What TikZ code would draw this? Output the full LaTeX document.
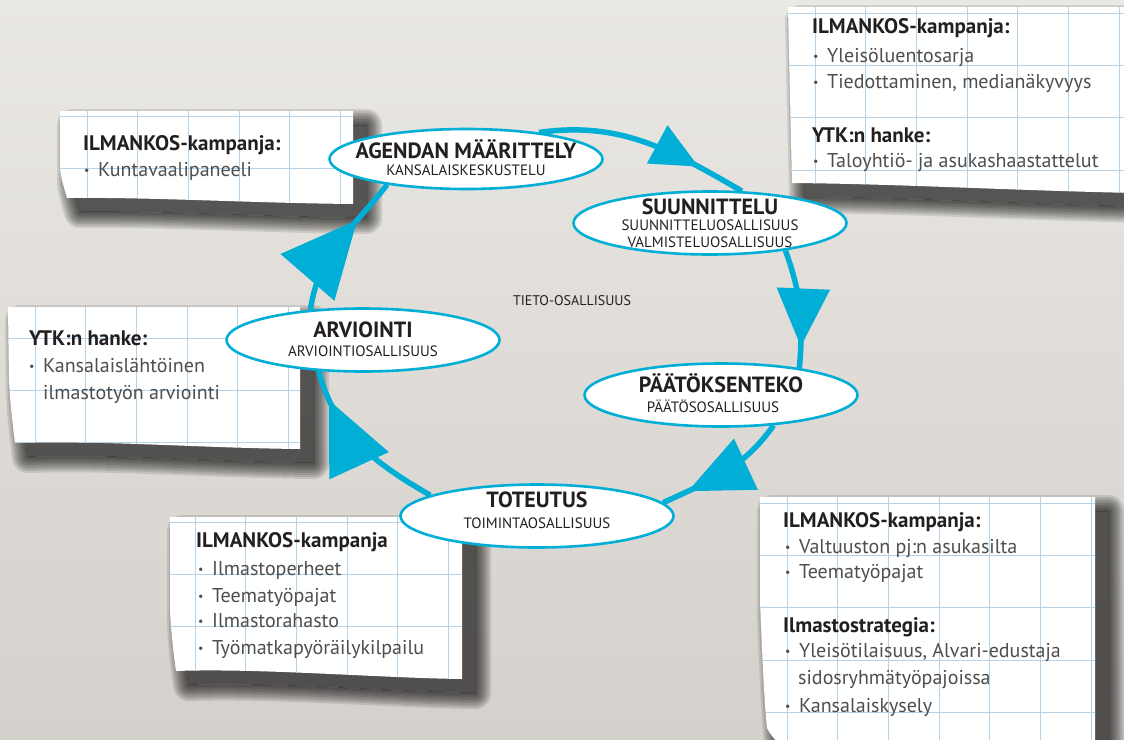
\documentclass[tikz,border=0pt]{standalone}
\usepackage{fontspec}
\setmainfont{PT Sans}
\usetikzlibrary{shapes.geometric,arrows.meta,decorations.markings}
\definecolor{cyc}{HTML}{00AED6}
\definecolor{gridc}{HTML}{B3D3EA}
\definecolor{txt}{HTML}{231F20}
\definecolor{lighttxt}{HTML}{4E4E4E}
\definecolor{bgtop}{HTML}{EAE8E4}
\definecolor{bgbot}{HTML}{D4D0CB}
\pgfdeclarelayer{bgl}
\pgfdeclarelayer{edges}
\pgfsetlayers{bgl,edges,main}
\newcommand{\bul}{\makebox[14pt][l]{\fontsize{12}{12}\selectfont\raisebox{1.5pt}{•}}}
\newcommand{\ttl}{\fontsize{22}{17}\selectfont\bfseries}
\newcommand{\softshadow}[1]{%
  \begin{scope}[shift={(13,14)}]
    \fill[black,opacity=0.62] #1;
    \begin{scope}[even odd rule]
      \clip (-200,-200) rectangle (1400,1000) #1;
      \foreach \w in {32,28,24,20,16,12,8,4}{\draw[line width=\w pt, black, opacity=0.11, line join=round] #1;}
    \end{scope}
  \end{scope}}
\tikzset{
  stage/.style={ellipse, draw=cyc, line width=2.6pt, fill=white, inner sep=0pt, minimum width=273pt, minimum height=63pt},
  stagetxt/.style={align=center, inner sep=0pt, text=txt, font=\fontsize{15}{17}\selectfont},
  head/.style={anchor=base west, inner sep=0pt, font=\fontsize{21}{26}\selectfont\bfseries, text=txt},
  item/.style={anchor=base west, inner sep=0pt, font=\fontsize{20}{26}\selectfont, text=lighttxt},
  flow/.style={draw=cyc, line width=5.5pt},
  arrowmark/.style n args={3}{decoration={markings, mark=at position #1 with {\arrow{Triangle[length=#2pt,width=#3pt]}}}, postaction={decorate}},
  paper/.style={fill=white},
  gridl/.style={draw=gridc, line width=0.8pt},
}
\begin{document}
\begin{tikzpicture}[x=1pt,y=-1pt]
\useasboundingbox (0,0) rectangle (1124,739);
\begin{pgfonlayer}{bgl}
\shade[top color=bgtop,bottom color=bgbot] (0,0) rectangle (1124,739);
% paper 1
\softshadow{(60,111) -- (353,111) -- (353,204) .. controls (250,203) and (150,197) .. (67,198) .. controls (64,188) and (61,178) .. (60,168) -- cycle}
\begin{scope}
\path[paper] (60,111) -- (353,111) -- (353,204) .. controls (250,203) and (150,197) .. (67,198) .. controls (64,188) and (61,178) .. (60,168) -- cycle;
\clip (60,111) -- (353,111) -- (353,204) .. controls (250,203) and (150,197) .. (67,198) .. controls (64,188) and (61,178) .. (60,168) -- cycle;
\foreach \i in {0,...,5} \draw[gridl] ({87+50.7*\i},100) -- ++(0,120);
\foreach \j in {0,1} \draw[gridl] (50,{116+52.3*\j}) -- ++(320,0);
\end{scope}
% paper 2
\softshadow{(788,7) -- (1134,7) -- (1134,193) .. controls (1000,190) and (900,184) .. (792,183) -- cycle}
\begin{scope}
\path[paper] (788,7) -- (1134,7) -- (1134,193) .. controls (1000,190) and (900,184) .. (792,183) -- cycle;
\clip (788,7) -- (1134,7) -- (1134,193) .. controls (1000,190) and (900,184) .. (792,183) -- cycle;
\foreach \i in {0,...,6} \draw[gridl] ({815+50.7*\i},0) -- ++(0,200);
\foreach \j in {0,...,3} \draw[gridl] (780,{13+52.3*\j}) -- ++(360,0);
\end{scope}
% paper 3
\softshadow{(8,307) -- (300,307) -- (300,449) .. controls (200,448) and (100,440) .. (15,443) .. controls (12,420) and (10,400) .. (9,380) -- cycle}
\begin{scope}
\path[paper] (8,307) -- (300,307) -- (300,449) .. controls (200,448) and (100,440) .. (15,443) .. controls (12,420) and (10,400) .. (9,380) -- cycle;
\clip (8,307) -- (300,307) -- (300,449) .. controls (200,448) and (100,440) .. (15,443) .. controls (12,420) and (10,400) .. (9,380) -- cycle;
\foreach \i in {0,...,5} \draw[gridl] ({35+50.7*\i},300) -- ++(0,160);
\foreach \j in {0,...,2} \draw[gridl] (0,{338+52.3*\j}) -- ++(310,0);
\end{scope}
% paper 4
\softshadow{(170,517) -- (462,517) -- (462,679) .. controls (380,678) and (260,668) .. (176,671) .. controls (173,650) and (171,630) .. (170,610) -- cycle}
\begin{scope}
\path[paper] (170,517) -- (462,517) -- (462,679) .. controls (380,678) and (260,668) .. (176,671) .. controls (173,650) and (171,630) .. (170,610) -- cycle;
\clip (170,517) -- (462,517) -- (462,679) .. controls (380,678) and (260,668) .. (176,671) .. controls (173,650) and (171,630) .. (170,610) -- cycle;
\foreach \i in {0,...,5} \draw[gridl] ({195+50.7*\i},510) -- ++(0,180);
\foreach \j in {0,...,3} \draw[gridl] (160,{522+52.3*\j}) -- ++(310,0);
\end{scope}
% paper 5
\softshadow{(760,497) -- (1095,497) -- (1095,760) -- (795,760) .. controls (780,745) and (772,738) .. (767,728) .. controls (764,700) and (762,650) .. (760,600) -- cycle}
\begin{scope}
\path[paper] (760,497) -- (1095,497) -- (1095,760) -- (795,760) .. controls (780,745) and (772,738) .. (767,728) .. controls (764,700) and (762,650) .. (760,600) -- cycle;
\clip (760,497) -- (1095,497) -- (1095,760) -- (795,760) .. controls (780,745) and (772,738) .. (767,728) .. controls (764,700) and (762,650) .. (760,600) -- cycle;
\foreach \i in {0,...,6} \draw[gridl] ({787+50.7*\i},490) -- ++(0,280);
\foreach \j in {0,...,4} \draw[gridl] (750,{503+52.3*\j}) -- ++(360,0);
\end{scope}
\end{pgfonlayer}

% stages
\node[stage, minimum height=60pt] (agenda) at (466,159) {};
\node[stage] (suun) at (710,223) {};
\node[stage] (paat) at (721,395) {};
\node[stage] (tot) at (537,516) {};
\node[stage] (arv) at (363,340) {};

\node[stagetxt] (agendaT) at (466,157.7) {{\ttl AGENDAN MÄÄRITTELY}\\ KANSALAISKESKUSTELU};
\node[stagetxt] (suunT) at (710,222.8) {{\ttl SUUNNITTELU}\\[-0.5pt] SUUNNITTELUOSALLISUUS\\[-0.5pt] VALMISTELUOSALLISUUS};
\node[stagetxt] (paatT) at (721,393.2) {{\ttl PÄÄTÖKSENTEKO}\\[3pt] PÄÄTÖSOSALLISUUS\kern16pt};
\node[stagetxt] (totT) at (537,509.8) {{\ttl TOTEUTUS}\\[4pt] TOIMINTAOSALLISUUS};
\node[stagetxt] (arvT) at (363,338.8) {{\ttl ARVIOINTI}\\[2pt] ARVIOINTIOSALLISUUS};

\node[text=txt, inner sep=0pt, font=\fontsize{14}{16}\selectfont] (tieto) at (572,301) {TIETO-OSALLISUUS};

% cycle connectors
\begin{pgfonlayer}{edges}
\draw[flow, arrowmark={0.77}{47}{42}] (agenda.20) to[out=8,in=150] (suun.45);
\draw[flow, arrowmark={0.82}{58}{52}] (suun.-20) to[out=-70,in=85] (paat.19);
\draw[flow, arrowmark={0.8}{64}{55}] (paat.-30) to[out=-125,in=25] (tot.6);
\draw[flow, arrowmark={0.82}{72}{64}] (tot.169) to[out=150,in=-75] (arv.215);
\draw[flow, arrowmark={0.69}{76}{70}] (arv.150) to[out=82,in=-128] (agenda.198);
\end{pgfonlayer}

% paper texts
\node[head] (h1) at (83,150) {ILMANKOS-kampanja:};
\node[item] (i11) at (84,176) {\bul Kuntavaalipaneeli};

\node[head] (h2) at (812,33) {ILMANKOS-kampanja:};
\node[item] (i21) at (813,62) {\bul Yleisöluentosarja};
\node[item] (i22) at (813,88) {\bul Tiedottaminen, medianäkyvyys};
\node[head] (h2b) at (812,142) {YTK:n hanke:};
\node[item] (i23) at (813,167) {\bul Taloyhtiö- ja asukashaastattelut};

\node[head] (h3) at (29,345) {YTK:n hanke:};
\node[item] (i31) at (29,372) {\bul Kansalaislähtöinen};
\node[item] (i32) at (29,399) {\hspace*{14pt}ilmastotyön arviointi};

\node[head] (h4) at (196,547) {ILMANKOS-kampanja};
\node[item] (i41) at (198,575) {\bul Ilmastoperheet};
\node[item] (i42) at (198,602) {\bul Teematyöpajat};
\node[item] (i43) at (198,627) {\bul Ilmastorahasto};
\node[item] (i44) at (198,654) {\bul Työmatkapyöräilykilpailu};

\node[head] (h5) at (783,527) {ILMANKOS-kampanja:};
\node[item] (i51) at (785,553) {\bul Valtuuston pj:n asukasilta};
\node[item] (i52) at (785,578) {\bul Teematyöpajat};
\node[head] (h5b) at (783,632) {Ilmastostrategia:};
\node[item] (i53) at (785,657) {\bul Yleisötilaisuus, Alvari-edustaja};
\node[item] (i54) at (785,684) {\hspace*{13pt}sidosryhmätyöpajoissa};
\node[item] (i55) at (785,712) {\bul Kansalaiskysely};
\end{tikzpicture}
\end{document}
